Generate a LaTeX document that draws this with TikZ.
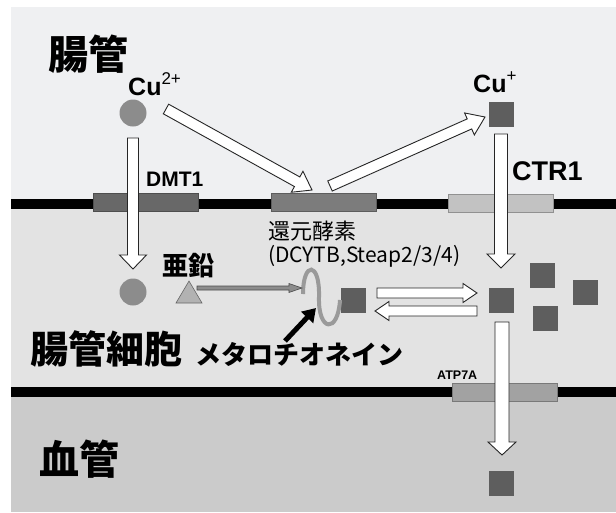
\documentclass[tikz,border=0pt]{standalone}
\usepackage{fontspec}
\setmainfont{Liberation Sans}
\newfontfamily\jp{Noto Sans CJK JP}
\usetikzlibrary{calc,arrows.meta}
\definecolor{topbg}{HTML}{EFF0F2}
\definecolor{midbg}{HTML}{E3E3E3}
\definecolor{botbg}{HTML}{CBCBCB}
\definecolor{dmtc}{HTML}{686868}
\definecolor{redc}{HTML}{7C7C7C}
\definecolor{ctrc}{HTML}{C2C2C2}
\definecolor{atpc}{HTML}{A2A2A2}
\definecolor{ionc}{HTML}{8C8C8C}
\definecolor{sqc}{HTML}{5E5E5E}
\definecolor{wavec}{HTML}{9A9A9A}
\tikzset{
  tbox/.style={fill=#1, draw=#1!75!black, line width=0.6pt, minimum width=105pt, minimum height=18pt, inner sep=0pt},
  ion/.style={circle, fill=ionc, minimum size=27pt, inner sep=0pt},
  cusq/.style={rectangle, fill=sqc, minimum size=25pt, inner sep=0pt},
  lbl/.style={anchor=base west, inner sep=0pt},
  fatarr/.style={draw=black!85, fill=white, line width=0.9pt, line join=miter},
  thinarr/.style={draw=black!70, fill=black!45, line width=0.6pt, line join=miter},
  wavestyle/.style={draw=wavec, line width=4pt},
  blackarr/.style={draw=black, line width=5pt, -{Triangle[length=13pt,width=16pt]}}
}
% #1 style, #2 start, #3 end, #4 shaft half width, #5 head half width, #6 head length
\newcommand\fatarrow[6][]{%
  \coordinate (fa-n) at ($(#3)!#6!(#2)$);
  \draw[fatarr,#1] ($(#2)!#4!90:(#3)$) -- ($(fa-n)!#4!90:(#3)$) -- ($(fa-n)!#5!90:(#3)$) -- (#3)
    -- ($(fa-n)!#5!-90:(#3)$) -- ($(fa-n)!#4!-90:(#3)$) -- ($(#2)!#4!-90:(#3)$) -- cycle;
}
\begin{document}
\begin{tikzpicture}[x=1pt,y=-1pt]
\useasboundingbox (0,0) rectangle (616,512);
\fill[white] (0,0) rectangle (616,512);
% regions
\fill[topbg] (11,7) rectangle (616,204);
\fill[midbg] (11,204) rectangle (616,392);
\fill[botbg] (11,392) rectangle (616,512);
% membranes
\fill[black] (11,199) rectangle (616,209);
\fill[black] (11,387) rectangle (616,397);
% transporter boxes
\node[tbox=dmtc] (dmt) at (145.5,202.5) {};
\node[tbox=redc] (red) at (323.5,202.5) {};
\node[tbox=ctrc] (ctr) at (501,203) {};
\node[tbox=atpc] (atp) at (505,392.5) {};
% ions
\node[ion] (cu2) at (133,113) {};
\node[ion] (cu2in) at (133,292) {};
\node[cusq] (cu1) at (501,114) {};
\node[cusq] (cuin) at (501,300) {};
\node[cusq] (cua) at (542,275) {};
\node[cusq] (cub) at (585,292) {};
\node[cusq] (cuc) at (545,318) {};
\node[cusq] (cumt) at (353.5,300.5) {};
\node[cusq] (cublood) at (501,483) {};
% zinc triangle
\coordinate (zn) at (189,295);
\draw[fill=black!30, draw=black!60, line width=0.6pt] (176,303) -- (202,303) -- (189,281) -- cycle;
% metallothionein wave
\coordinate (mt) at (320,297);
\draw[wavestyle] (303,294) .. controls (303,261) and (320,261) .. (319,297)
   .. controls (318,332) and (338,334) .. (340,300);
% arrow end points
\coordinate (a1s) at (166,109);
\coordinate (a1e) at (312,190);
\coordinate (a2s) at (330,186);
\coordinate (a2e) at (485,117);
\coordinate (v1s) at (133,138);
\coordinate (v1e) at (133,269);
\coordinate (v2s) at (501,134);
\coordinate (v2e) at (501,268);
\coordinate (v3s) at (502,322);
\coordinate (v3e) at (502,455);
\coordinate (d1s) at (377,293);
\coordinate (d1e) at (477,293);
\coordinate (d2s) at (477,311);
\coordinate (d2e) at (375,311);
\coordinate (zs) at (197,288);
\coordinate (ze) at (302,288);
\coordinate (bas) at (285,341);
\coordinate (bae) at (316,308);
% arrows
\fatarrow{a1s}{a1e}{5.5pt}{12pt}{17pt}
\fatarrow{a2s}{a2e}{5.5pt}{12pt}{17pt}
\fatarrow{v1s}{v1e}{5.5pt}{13.5pt}{14pt}
\fatarrow{v2s}{v2e}{6.5pt}{14pt}{14pt}
\fatarrow{v3s}{v3e}{7pt}{14pt}{13pt}
\fatarrow{d1s}{d1e}{5pt}{9.5pt}{14pt}
\fatarrow{d2s}{d2e}{5pt}{9.5pt}{14pt}
\fatarrow[thinarr]{zs}{ze}{2pt}{4.5pt}{13pt}
\draw[blackarr] (bas) -- (bae);
% labels
\node[lbl] (t1) at (48,69) {\jp\bfseries\fontsize{40}{40}\selectfont 腸管};
\node[lbl] (t2) at (39,474) {\jp\bfseries\fontsize{40}{40}\selectfont 血管};
\node[lbl] (t3) at (30,363) {\jp\bfseries\fontsize{38}{38}\selectfont 腸管細胞};
\node[lbl] (t4) at (195,364.5) {\jp\bfseries\fontsize{26}{26}\selectfont メタロチオネイン};
\node[lbl] (t5) at (162,275) {\jp\bfseries\fontsize{26}{26}\selectfont 亜鉛};
\node[lbl] (t6) at (268,239.5) {\jp\fontsize{22}{22}\selectfont 還元酵素};
\node[lbl] (t7) at (268,262) {\jp\fontsize{21}{21}\selectfont (DCYTB,Steap2/3/4)};
\node[lbl] (t8) at (128,95) {\bfseries\fontsize{25}{25}\selectfont Cu\raisebox{0.42em}{\mdseries\fontsize{17}{17}\selectfont 2+}};
\node[lbl] (t9) at (473,92) {\bfseries\fontsize{25}{25}\selectfont Cu\raisebox{0.42em}{\mdseries\fontsize{17}{17}\selectfont +}};
\node[lbl] (t10) at (146,186) {\bfseries\fontsize{21}{21}\selectfont DMT1};
\node[lbl] (t11) at (512,180) {\bfseries\fontsize{27}{27}\selectfont CTR1};
\node[lbl] (t12) at (437,379) {\bfseries\fontsize{12.5}{12.5}\selectfont ATP7A};
\end{tikzpicture}
\end{document}
